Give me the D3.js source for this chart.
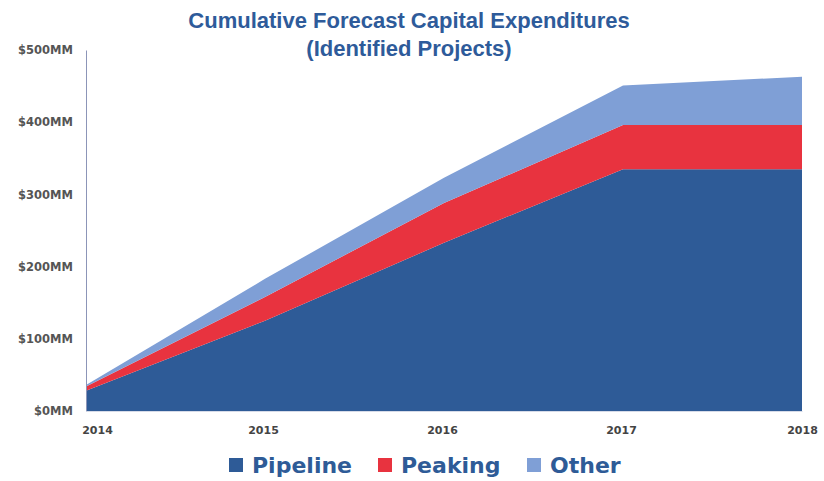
<!DOCTYPE html>
<html>
<head>
<meta charset="utf-8">
<script src="https://cdnjs.cloudflare.com/ajax/libs/d3/7.8.5/d3.min.js"></script>
<style>
  body { margin: 0; background: #fff; }
  svg { font-family: "Liberation Sans", Arial, sans-serif; }
</style>
</head>
<body>
<div id="chart"></div>
<script>
// data ($MM, cumulative)
var years = [2014, 2015, 2016, 2017, 2018];
var pipeline = [28, 125, 233, 335, 335];
var peaking = [6, 33, 55, 61, 61];
var other = [2, 25, 35, 55, 67];
var seriesNames = ["Pipeline", "Peaking", "Other"];
var yTicks = [0, 100, 200, 300, 400, 500];

var width = 824, height = 481;
var colors = {"Pipeline": "#2e5b97", "Peaking": "#e8333f", "Other": "#7f9fd6"};

var svg = d3.select("#chart").append("svg")
  .attr("width", width)
  .attr("height", height);

var x = d3.scaleLinear().domain([2014, 2018]).range([86, 802]);
var y = d3.scaleLinear().domain([0, 500]).range([411, 50]);

// table for the stack
var rows = years.map(function(yr, i) {
  return {year: yr, Pipeline: pipeline[i], Peaking: peaking[i], Other: other[i]};
});
var stacked = d3.stack().keys(seriesNames)(rows);

var area = d3.area()
  .x(function(d) { return x(d.data.year); })
  .y0(function(d) { return y(d[0]); })
  .y1(function(d) { return y(d[1]); });

svg.append("g").selectAll("path")
  .data(stacked)
  .enter().append("path")
  .attr("d", area)
  .attr("fill", function(d) { return colors[d.key]; });

// y axis
var yAxis = svg.append("g")
  .attr("transform", "translate(86,0)")
  .call(d3.axisLeft(y).tickValues(yTicks).tickSize(0).tickPadding(13)
    .tickFormat(function(d) { return "$" + d + "MM"; }));
yAxis.select(".domain").attr("stroke", "#8c95b8").attr("stroke-width", 1);
yAxis.selectAll("text")
  .attr("fill", "#555")
  .style("font-family", "'DejaVu Sans', sans-serif")
  .style("font-size", "11.5px")
  .style("font-weight", "bold");

// x axis
var xAxis = svg.append("g")
  .attr("transform", "translate(0,411)")
  .call(d3.axisBottom(x).tickValues(years).tickSize(0).tickPadding(15)
    .tickFormat(d3.format("d")));
xAxis.select(".domain").attr("stroke", "#d6dbe8");
xAxis.selectAll("text")
  .attr("fill", "#444")
  .style("font-family", "'DejaVu Sans', sans-serif")
  .style("font-size", "11px")
  .style("font-weight", "bold")
  .attr("dx", function(d) { return d == 2014 ? 11 : (d == 2018 ? 0 : -2); });

// title
var title = svg.append("text")
  .attr("text-anchor", "middle")
  .attr("fill", "#2e5b9a")
  .style("font-size", "22px")
  .style("font-weight", "bold");
title.append("tspan").attr("x", 409).attr("y", 28).text("Cumulative Forecast Capital Expenditures");
title.append("tspan").attr("x", 409).attr("y", 56).text("(Identified Projects)");

// legend
var legendX = [229, 378, 527];
var legend = svg.append("g").selectAll("g")
  .data(seriesNames)
  .enter().append("g")
  .attr("transform", function(d, i) { return "translate(" + legendX[i] + ",458)"; });
legend.append("rect")
  .attr("width", 14).attr("height", 14)
  .attr("fill", function(d) { return colors[d]; });
legend.append("text")
  .attr("x", 23).attr("y", 15)
  .attr("fill", "#2e5b97")
  .style("font-family", "'DejaVu Sans', sans-serif")
  .style("font-size", "22px")
  .style("font-weight", "bold")
  .text(function(d) { return d; });
</script>
</body>
</html>
